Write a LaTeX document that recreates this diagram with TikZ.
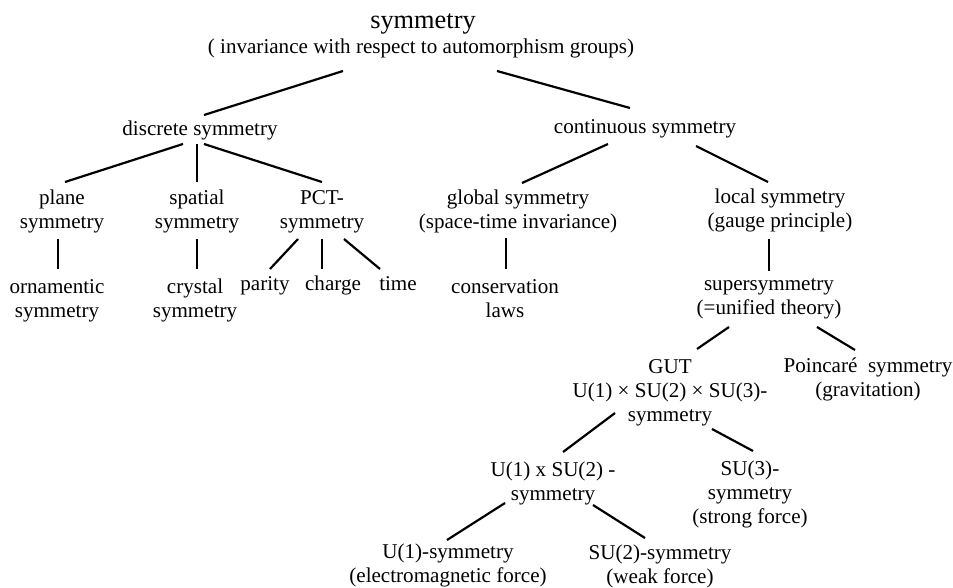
\documentclass[tikz,border=0pt]{standalone}
\usepackage{fontspec}
\setmainfont{Liberation Serif}
\usepackage{tikz}
\tikzset{every node/.append style={font=\fontsize{12}{13.6}\selectfont, inner sep=0pt, align=center, anchor=base}}

\begin{document}
\begin{tikzpicture}[x=0.02cm, y=-0.02cm, line width=1.25pt]
    \useasboundingbox (0,0) rectangle (953,588);
    % top (base = baseline of the last line)
    \node[font=\fontsize{15}{18}\selectfont] (root) at (423,29) {symmetry};
    \node (rootsub) at (421,54) {( invariance with respect to automorphism groups)};
    \node (disc) at (200,135) {discrete symmetry};
    \node (cont) at (645,133) {continuous symmetry};
    % discrete branch
    \node (plane) at (62,228) {plane\\symmetry};
    \node (spat) at (197,228) {spatial\\symmetry};
    \node (pct) at (322,228) {PCT-\\symmetry};
    \node (orn) at (57,317) {ornamentic\\symmetry};
    \node (cryst) at (195,317) {crystal\\symmetry};
    \node (par) at (265,290) {parity};
    \node (cha) at (333,290) {charge};
    \node (tim) at (398,290) {time};
    % continuous branch
    \node (glob) at (518,228) {global symmetry\\(space-time invariance)};
    \node (loc) at (780,227) {local symmetry\\(gauge principle)};
    \node (cons) at (505,317) {conservation\\laws};
    \node (sup) at (769,314) {supersymmetry\\(=unified theory)};
    \node (gut) at (670,421) {GUT\\U(1) × SU(2) × SU(3)-\\symmetry};
    \node (poin) at (868,396) {Poincaré~ symmetry\\(gravitation)};
    \node (uxsu) at (553,500) {U(1) x SU(2) -\\symmetry};
    \node (suthree) at (750,523) {SU(3)-\\symmetry\\(strong force)};
    \node (uone) at (448,582) {U(1)-symmetry\\(electromagnetic force)};
    \node (sutwo) at (660,583) {SU(2)-symmetry\\(weak force)};
    % connectors
    \draw ([shift={(-78,17)}]rootsub.base) -- ([shift={(4,-20)}]disc.base);
    \draw ([shift={(76,17)}]rootsub.base) -- ([shift={(-15,-25)}]cont.base);
    \draw ([shift={(-17,9)}]disc.base) -- ([shift={(3,-46)}]plane.base);
    \draw ([shift={(-3,9)}]disc.base) -- ([shift={(0,-46)}]spat.base);
    \draw ([shift={(4,9)}]disc.base) -- ([shift={(0,-46)}]pct.base);
    \draw ([shift={(-37,11)}]cont.base) -- ([shift={(4,-45)}]glob.base);
    \draw ([shift={(51,13)}]cont.base) -- ([shift={(-12,-45)}]loc.base);
    \draw ([shift={(-4,11)}]plane.base) -- ([shift={(1,-48)}]orn.base);
    \draw ([shift={(0,11)}]spat.base) -- ([shift={(2,-48)}]cryst.base);
    \draw ([shift={(-24,11)}]pct.base) -- ([shift={(5,-21)}]par.base);
    \draw ([shift={(0,11)}]pct.base) -- ([shift={(-11,-21)}]cha.base);
    \draw ([shift={(22,11)}]pct.base) -- ([shift={(-18,-21)}]tim.base);
    \draw ([shift={(-12,10)}]glob.base) -- ([shift={(1,-48)}]cons.base);
    \draw ([shift={(-11,12)}]loc.base) -- ([shift={(0,-43)}]sup.base);
    \draw ([shift={(-40,13)}]sup.base) -- ([shift={(27,-72)}]gut.base);
    \draw ([shift={(48,13)}]sup.base) -- ([shift={(-13,-46)}]poin.base);
    \draw ([shift={(-55,-8)}]gut.base) -- ([shift={(10,-48)}]uxsu.base);
    \draw ([shift={(42,8)}]gut.base) -- ([shift={(3,-72)}]suthree.base);
    \draw ([shift={(-48,3)}]uxsu.base) -- ([shift={(-1,-42)}]uone.base);
    \draw ([shift={(40,5)}]uxsu.base) -- ([shift={(-15,-45)}]sutwo.base);
\end{tikzpicture}
\end{document}
